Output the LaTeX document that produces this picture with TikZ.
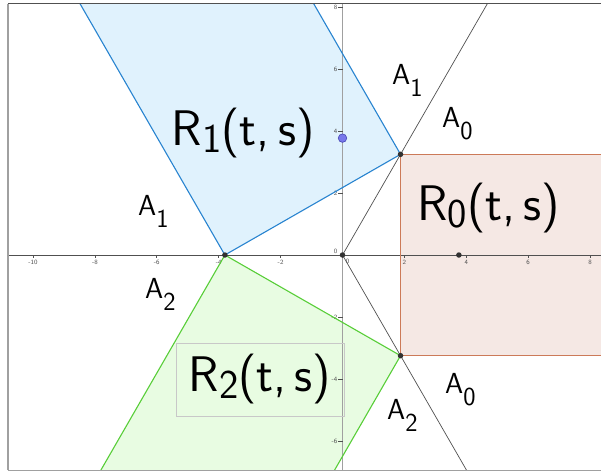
\documentclass[tikz,border=0pt]{standalone}
\usepackage{fontspec}
\definecolor{bluefill}{RGB}{224,242,253}
\definecolor{blueline}{RGB}{40,132,208}
\definecolor{greenfill}{RGB}{232,252,226}
\definecolor{greenline}{RGB}{88,206,56}
\definecolor{orfill}{RGB}{245,232,228}
\definecolor{orline}{RGB}{204,122,88}
\definecolor{axisdark}{RGB}{80,80,80}
\definecolor{axisgray}{RGB}{160,160,160}
\definecolor{boxgray}{RGB}{200,200,200}
\definecolor{dotdark}{RGB}{50,50,50}
\definecolor{dotblue}{RGB}{120,120,235}
\definecolor{dotblueedge}{RGB}{70,70,180}
\newcommand{\rsub}[1]{\raisebox{-7pt}{\fontsize{41}{41}\selectfont #1}}
\newcommand{\asub}[1]{\raisebox{-12pt}{\fontsize{26}{26}\selectfont #1}}
\tikzset{
  rlab/.style={font=\sffamily\fontsize{50}{50}\selectfont, inner sep=0pt, anchor=base west},
  alab/.style={font=\sffamily\fontsize{29}{29}\selectfont, inner sep=0pt, anchor=base west},
  ticklab/.style={font=\sffamily\fontsize{6.5}{7}\selectfont, text=axisdark, inner sep=0pt},
  tickmark/.style={draw=axisdark, line width=0.6pt},
  ray/.style={draw=axisdark, line width=0.7pt},
  dotd/.style={circle, fill=dotdark, inner sep=0pt, minimum size=5.5pt},
  dotb/.style={circle, fill=dotblue, draw=dotblueedge, line width=0.6pt, inner sep=0pt, minimum size=8.5pt},
}
\begin{document}
\begin{tikzpicture}[x=30.95pt,y=31pt]
\useasboundingbox[fill=white] (-11.066,8.226) rectangle (8.352,-6.968);
% key points
\coordinate (O) at (0,0);
\coordinate (P) at (-3.8,0);
\coordinate (Q) at (1.875,3.2476);
\coordinate (Qm) at (1.875,-3.2476);
\coordinate (S) at (3.76,0);
\coordinate (T) at (0,3.77);
\coordinate (Pu) at (-8.8,8.660);
\coordinate (Qu) at (-3.125,11.908);
\coordinate (Pd) at (-8.8,-8.660);
\coordinate (Qd) at (-3.125,-11.908);
\coordinate (Ru) at (5,8.660);
\coordinate (Rd) at (5,-8.660);
\coordinate (Eu) at (9,3.2476);
\coordinate (Ed) at (9,-3.2476);
% frame corners
\coordinate (FL) at (-10.808,0);
\coordinate (FR) at (8.352,0);
\coordinate (FT) at (0,8.097);
\coordinate (FB) at (0,-6.935);
\coordinate (FTL) at (-10.808,8.097);
\coordinate (FTR) at (8.352,8.097);
\coordinate (FBL) at (-10.808,-6.935);
\coordinate (FBR) at (8.352,-6.935);

\begin{scope}
  \clip (FTL) rectangle (FBR);
  \fill[bluefill] (P) -- (Q) -- (Qu) -- (Pu) -- cycle;
  \fill[greenfill] (P) -- (Qm) -- (Qd) -- (Pd) -- cycle;
  \fill[orfill] (Qm) rectangle (Eu);
\end{scope}

% axes
\draw[axisgray, line width=1.5pt] (FT) -- (FB);
\draw[axisdark, line width=1pt] (FL) -- (FR);

% x ticks
\foreach \v in {-10,-8,-6,-4,-2,2,4,6,8} {
  \draw[tickmark] (\v,0) -- ++(0,-0.09);
  \node[ticklab] at (\v,-0.24) {\v};
}
% y ticks
\foreach \v in {-6,-4,-2,2,4,6,8} {
  \draw[tickmark] (0,\v) -- ++(-0.14,0);
  \node[ticklab, anchor=east] at (-0.162,\v) {\v};
}
\node[ticklab] (zx) at (-0.220,0.129) {0};
\node[ticklab] (zy) at (0.168,-0.21) {0};

\begin{scope}
  \clip (FTL) rectangle (FBR);
  \draw[ray] (O) -- (Ru);
  \draw[ray] (O) -- (Rd);
  \draw[blueline, line width=1.1pt] (Pu) -- (P) -- (Q) -- (Qu);
  \draw[greenline, line width=1.1pt] (Pd) -- (P) -- (Qm) -- (Qd);
  \draw[orline, line width=1.2pt] (Eu) -- (Q) -- (Qm) -- (Ed);
\end{scope}

% frame
\draw[axisdark, line width=1pt] (FTL) -- (FTR);
\draw[axisgray, line width=1.5pt] (FTL) -- (FBL);
\draw[axisgray, line width=1pt] (FBL) -- (FBR);

% region labels
\node[rlab] (r1) at (-5.52,3.548) {R\rsub{1}(t,\,s)};
\node[rlab] (r0) at (2.42,1.129) {R\rsub{0}(t,\,s)};
\node[draw=boxgray, line width=0.8pt, font=\sffamily\fontsize{50}{50}\selectfont,
      minimum width=168pt, minimum height=73pt, inner sep=0pt] (r2) at (-2.666,-4.016)
      {R\rsub{2}(t,\,s)};

% arc labels
\node[alab] (a1t) at (1.599,5.484) {A\asub{1}};
\node[alab] (a0t) at (3.215,4.129) {A\asub{0}};
\node[alab] (a1l) at (-6.607,1.290) {A\asub{1}};
\node[alab] (a2l) at (-6.381,-1.387) {A\asub{2}};
\node[alab] (a0b) at (3.312,-4.452) {A\asub{0}};
\node[alab] (a2b) at (1.438,-5.290) {A\asub{2}};

% points
\node[dotd] (dO) at (O) {};
\node[dotd] (dP) at (P) {};
\node[dotd] (dQ) at (Q) {};
\node[dotd] (dQm) at (Qm) {};
\node[dotd] (dS) at (S) {};
\node[dotb] (dT) at (T) {};
\end{tikzpicture}
\end{document}
